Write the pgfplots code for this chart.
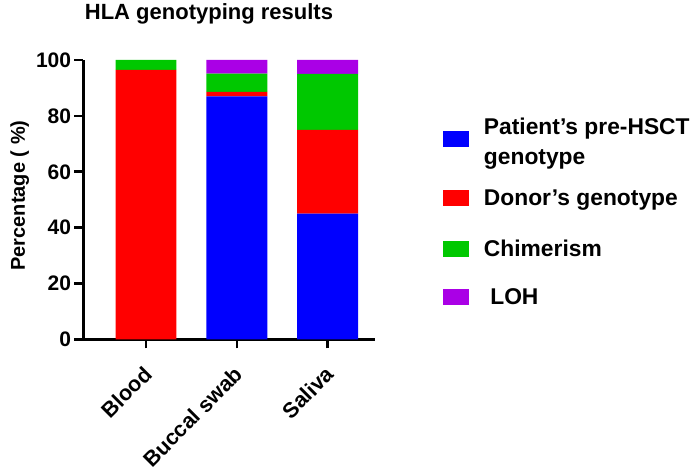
\documentclass[border=0pt]{standalone}
\usepackage{pgfplots}
\pgfplotsset{compat=1.18}
\usepackage{fontspec}
\setmainfont{Liberation Sans}
\definecolor{cblue}{RGB}{0,0,255}
\definecolor{cred}{RGB}{255,0,0}
\definecolor{cgreen}{RGB}{0,200,0}
\definecolor{cpurple}{RGB}{170,0,230}
\pgfplotsset{sw/.style={legend image code/.code={\fill[##1,draw=none] (0pt,-0.7pt) rectangle (26pt,15.6pt); \path (41pt,0pt);}},
  swa/.style={legend image code/.code={\fill[##1,draw=none] (0pt,1.4pt) rectangle (26pt,17.4pt); \path (41pt,0pt);}}}
\begin{document}
\begin{tikzpicture}
\begin{axis}[
  scale only axis, width=291.6pt, height=279.5pt,
  ybar stacked, bar width=0.671,
  xmin=-0.69, xmax=2.52, ymin=0, ymax=100,
  axis lines*=left,
  axis line style={-, line width=2.6pt},
  xtick={0,1,2}, xticklabels={Blood, Buccal swab, Saliva},
  ytick={0,20,40,60,80,100},
  tick align=outside, major tick length=9pt,
  tick style={line width=2.6pt, black},
  /pgf/number format/assume math mode=true,
  y tick label style={font=\fontsize{21}{25}\selectfont\bfseries, inner xsep=3pt},
  x tick label style={font=\fontsize{21.5}{25}\selectfont\bfseries, rotate=45, anchor=north east, inner sep=0pt, xshift=-14pt, yshift=-9pt},
  title={HLA genotyping results},
  title style={font=\fontsize{22}{26}\selectfont\bfseries, inner sep=0pt, at={(axis description cs:0.431,1)}, anchor=base, yshift=34pt},
  ylabel={Percentage ( \%)},
  ylabel style={font=\fontsize{20}{24}\selectfont\bfseries, inner sep=0pt, at={(axis description cs:-0.2,0.515)}, anchor=base},
  legend cell align=left,
  legend style={at={(axis description cs:1.2335,0.81)}, anchor=north west, draw=none, fill=none, inner sep=0pt, outer sep=0pt, row sep=0pt,
    cells={anchor=base west},
    nodes={inner sep=0pt, text depth=}, font=\fontsize{22.8}{30}\selectfont\bfseries},
]
\addplot[fill=cblue, draw=none, swa] coordinates {(0,0) (1,87) (2,45)};
\addlegendentry{{\begin{tabular}[c]{@{}l@{}}Patient’s pre-HSCT\\genotype\end{tabular}}}
\addplot[fill=cred, draw=none, sw] coordinates {(0,96.5) (1,1.6) (2,30)};
\addlegendentry{\rule[-8.4pt]{0pt}{40.4pt}Donor’s genotype}
\addplot[fill=cgreen, draw=none, sw] coordinates {(0,3.5) (1,6.5) (2,20)};
\addlegendentry{\rule[-8.4pt]{0pt}{51pt}Chimerism}
\addplot[fill=cpurple, draw=none, sw] coordinates {(0,0) (1,4.9) (2,5)};
\addlegendentry{\rule[-8.4pt]{0pt}{48pt}\ LOH}
\end{axis}
\path (current axis.south west) ++(-83.3pt,-130.5pt) rectangle ++(693pt,470pt);
\end{tikzpicture}
\end{document}
